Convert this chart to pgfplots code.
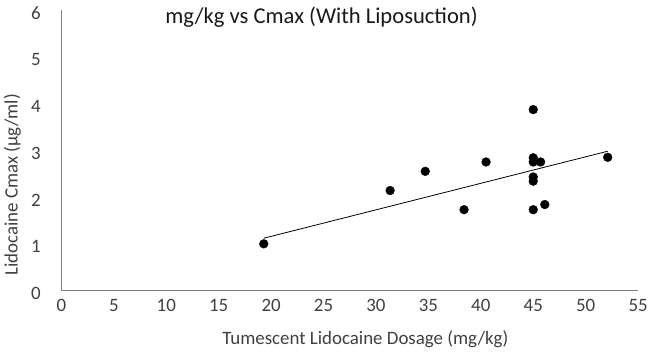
\documentclass[border=0pt]{standalone}
\usepackage{pgfplots}
\pgfplotsset{compat=1.18}
\usepackage{fontspec}
\setmainfont{Carlito}
\definecolor{axisgray}{HTML}{7F7F7F}
\definecolor{txtgray}{HTML}{404040}
\begin{document}
\begin{tikzpicture}
\begin{axis}[
  at={(0,0)}, anchor=origin,
  scale only axis,
  width=577.5bp, height=281bp,
  xmin=0, xmax=55, ymin=0, ymax=6,
  xtick={0,5,...,55}, ytick={0,1,...,6},
  axis x line*=bottom, axis y line*=left,
  axis line style={axisgray, line width=0.9bp, -},
  major tick length=0pt,
  tick style={draw=none},
  /pgf/number format/assume math mode=true,
  ticklabel style={font=\fontsize{19}{21}\selectfont, text=txtgray},
  xticklabel style={anchor=center, yshift=-15bp},
  yticklabel style={anchor=center, xshift=-25.5bp, yshift=-3bp},
  xlabel={Tumescent Lidocaine Dosage (mg/kg)},
  ylabel={Lidocaine Cmax (µg/ml)},
  label style={font=\fontsize{19}{21}\selectfont, text=txtgray},
  xlabel style={at={(axis description cs:0.527,-0.175)}, anchor=center},
  ylabel style={at={(axis description cs:-0.085,0.377)}, anchor=center},
  clip=false,
]
\addplot[only marks, mark=*, mark size=4.4bp, mark options={fill=black, draw=black}] coordinates {
  (19.3,1.00)
  (31.35,2.14)
  (34.7,2.55)
  (38.4,1.73)
  (40.5,2.75)
  (45.0,3.87)
  (45.0,2.84)
  (45.0,2.75)
  (45.7,2.75)
  (45.0,2.43)
  (45.0,2.34)
  (45.0,1.73)
  (46.1,1.84)
  (52.1,2.85)
};
\addplot[black, line width=0.8bp, no marks] coordinates {(19.3,1.12) (52.1,2.98)};
\end{axis}
\node[font=\fontsize{22.7}{26}\selectfont, text=black!90] at (260.5bp,274bp) {mg/kg vs Cmax (With Liposuction)};
\path[use as bounding box] (-61.5bp,-63bp) rectangle (589.5bp,291bp);
\end{tikzpicture}
\end{document}
